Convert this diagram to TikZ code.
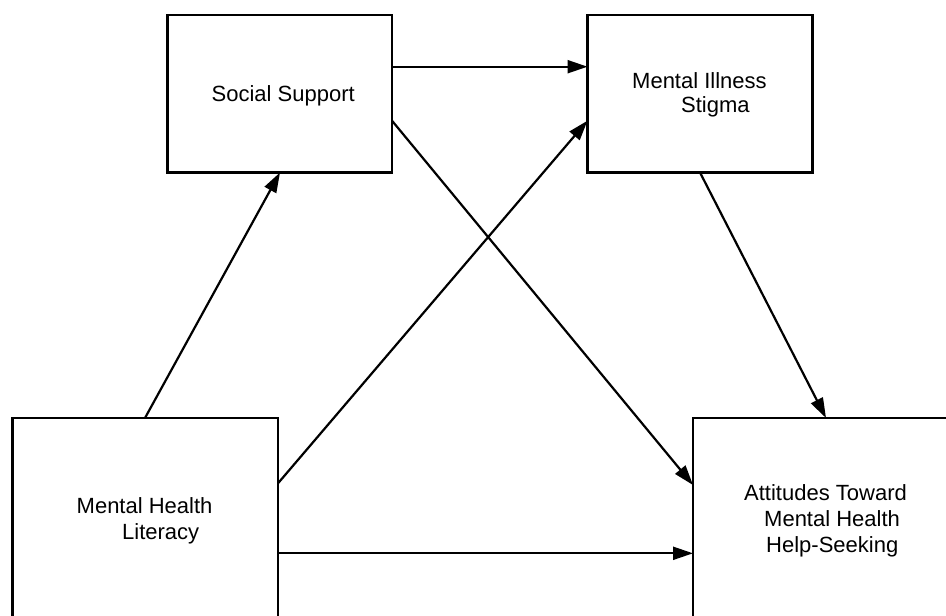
\documentclass[tikz,border=0pt]{standalone}
\usepackage{fontspec}
\setmainfont{Liberation Sans}
\usetikzlibrary{arrows.meta}
\begin{document}
\begin{tikzpicture}[x=1pt,y=-1pt,
  boxnode/.style={draw=black,line width=2.2pt,rectangle,inner sep=0pt,outer sep=0pt,anchor=north west,fill=white},
  txt/.style={inner sep=0pt,anchor=base west,font=\fontsize{22}{26}\selectfont},
  conn/.style={line width=2.2pt,-{Triangle[length=20pt,width=13pt]}}]
\fill[white] (0,0) rectangle (946,616);
\useasboundingbox (0,0) rectangle (946,616);
\clip (0,0) rectangle (946,616);
% boxes
\node[boxnode,minimum width=224.5pt,minimum height=157.5pt] (ss) at (167.5,15) {};
\node[boxnode,minimum width=225pt,minimum height=157.5pt] (mis) at (587.5,15) {};
\node[boxnode,minimum width=265.5pt,minimum height=230pt] (mhl) at (12.5,418) {};
\node[boxnode,minimum width=280pt,minimum height=230pt] (att) at (693,418) {};
% texts
\node[txt] (ssa) at (211.5,101.5) {Social Support};
\node[txt] (misa) at (632,88.3) {Mental Illness};
\node[txt] (misb) at (681,112.5) {Stigma};
\node[txt] (mhla) at (76.5,513.3) {Mental Health};
\node[txt] (mhlb) at (122,539) {Literacy};
\node[txt] (atta) at (744,500) {Attitudes Toward};
\node[txt] (attb) at (764,526.7) {Mental Health};
\node[txt] (attc) at (766,552.3) {Help-Seeking};
% connectors
\draw[conn] ([yshift=-51.7pt]ss.north east) -- ([yshift=-51.7pt]mis.north west);
\draw[conn] ([yshift=-105.7pt]ss.north east) -- ([yshift=-67pt]att.north west);
\draw[conn] ([xshift=112.5pt]mis.south west) -- ([xshift=133pt]att.north west);
\draw[conn] ([xshift=132.5pt]mhl.north west) -- ([xshift=112.5pt]ss.south west);
\draw[conn] ([yshift=-65.3pt]mhl.north east) -- ([yshift=-105.7pt]mis.north west);
\draw[conn] ([yshift=-135.3pt]mhl.north east) -- ([yshift=-135.3pt]att.north west);
\end{tikzpicture}
\end{document}
